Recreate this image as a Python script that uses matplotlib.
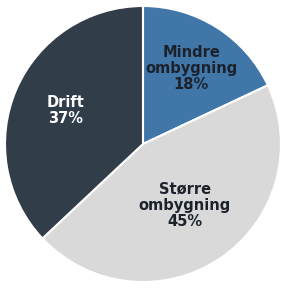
import numpy as np
import matplotlib.pyplot as plt

labels = ["Mindre\nombygning", "Større\nombygning", "Drift"]
shares = [18, 45, 37]
colors = ["#4176a9", "#d9d9d9", "#323d4a"]
text_colors = ["#1c222b", "#1c222b", "white"]
label_dist = [0.65, 0.54, 0.61]

fig = plt.figure(figsize=(2.82, 2.89), dpi=100)
ax = fig.add_axes([5 / 282, 7 / 289, 276 / 282, 276 / 289])

wedges, _ = ax.pie(
    shares,
    colors=colors,
    startangle=90,
    counterclock=False,
    wedgeprops=dict(edgecolor="white", linewidth=1.5),
)

# labels placed at mid-angle of each wedge
for w, l, v, c, d in zip(wedges, labels, shares, text_colors, label_dist):
    ang = np.deg2rad((w.theta1 + w.theta2) / 2)
    ax.text(d * np.cos(ang), d * np.sin(ang), f"{l}\n{v}%", color=c,
            fontsize=10.5, fontweight="bold", ha="center", va="center",
            linespacing=1.1)

ax.set_xlim(-1.0, 1.0)
ax.set_ylim(-1.0, 1.0)
ax.set_aspect("equal")
fig.savefig("out.png", dpi=100, facecolor="white")
